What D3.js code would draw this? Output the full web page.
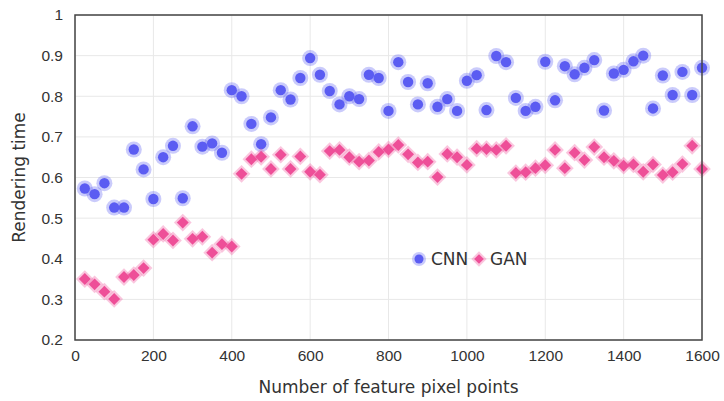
<!DOCTYPE html>
<meta charset="utf-8">
<style>
body {
  margin: 0;
  background: #fff;
  font-family: "DejaVu Sans", Verdana, sans-serif;
}
.grid line {
  stroke: #e8e8e8;
  stroke-width: 1;
}
.axis text {
  font-size: 15.5px;
  fill: #333;
}
.axis path, .axis line {
  display: none;
}
.title {
  font-size: 17px;
  fill: #333;
}
</style>
<body>
<script src="https://cdn.jsdelivr.net/npm/d3@7"></script>
<script>

var width = 724,
    height = 401;

var margin = {top: 15, right: 22, bottom: 61, left: 75};

// feature pixel counts, one point every 25
var xValues = d3.range(1, 65).map(function(i) { return i * 25; });

var cnn = [0.573, 0.559, 0.586, 0.526, 0.526, 0.669, 0.62, 0.547, 0.65, 0.678,
  0.549, 0.726, 0.676, 0.684, 0.661, 0.815, 0.8, 0.732, 0.682, 0.748,
  0.815, 0.792, 0.845, 0.894, 0.853, 0.813, 0.78, 0.8, 0.793, 0.853,
  0.845, 0.764, 0.884, 0.835, 0.78, 0.832, 0.774, 0.793, 0.764, 0.838,
  0.852, 0.766, 0.899, 0.884, 0.796, 0.764, 0.774, 0.885, 0.79, 0.874,
  0.854, 0.87, 0.889, 0.765, 0.856, 0.865, 0.886, 0.9, 0.77, 0.851,
  0.803, 0.86, 0.803, 0.87];

var gan = [0.35, 0.337, 0.319, 0.301, 0.355, 0.36, 0.377, 0.447, 0.461, 0.445,
  0.489, 0.449, 0.454, 0.415, 0.436, 0.43, 0.609, 0.645, 0.651, 0.621,
  0.656, 0.621, 0.652, 0.614, 0.607, 0.665, 0.668, 0.65, 0.639, 0.642,
  0.663, 0.669, 0.68, 0.657, 0.637, 0.639, 0.601, 0.658, 0.65, 0.631,
  0.671, 0.67, 0.668, 0.678, 0.611, 0.613, 0.623, 0.63, 0.668, 0.623,
  0.661, 0.643, 0.675, 0.65, 0.641, 0.629, 0.632, 0.614, 0.632, 0.606,
  0.613, 0.633, 0.678, 0.621];

var xTicks = [0, 200, 400, 600, 800, 1000, 1200, 1400, 1600];
var yTicks = [0.2, 0.3, 0.4, 0.5, 0.6, 0.7, 0.8, 0.9, 1];

var svg = d3.select("body").append("svg")
    .attr("width", width)
    .attr("height", height);

var x = d3.scaleLinear()
    .domain([0, 1600])
    .range([margin.left, width - margin.right]);

var y = d3.scaleLinear()
    .domain([0.2, 1])
    .range([height - margin.bottom, margin.top]);

// grid
var grid = svg.append("g").attr("class", "grid");
grid.selectAll(".gx")
    .data(xTicks)
  .enter().append("line")
    .attr("x1", x).attr("x2", x)
    .attr("y1", y(0.2)).attr("y2", y(1));
grid.selectAll(".gy")
    .data(yTicks)
  .enter().append("line")
    .attr("x1", x(0)).attr("x2", x(1600))
    .attr("y1", y).attr("y2", y);

// axes (labels only)
svg.append("g")
    .attr("class", "axis")
    .attr("transform", "translate(0," + y(0.2) + ")")
    .call(d3.axisBottom(x).tickValues(xTicks).tickSize(0).tickPadding(10).tickFormat(d3.format("d")));

svg.append("g")
    .attr("class", "axis")
    .attr("transform", "translate(" + x(0) + ",0)")
    .call(d3.axisLeft(y).tickValues(yTicks).tickSize(0).tickPadding(12).tickFormat(function(d) { return d === 1 ? "1" : d3.format(".1f")(d); }));

svg.append("text")
    .attr("class", "title")
    .attr("x", (x(0) + x(1600)) / 2)
    .attr("y", 393)
    .attr("text-anchor", "middle")
    .text("Number of feature pixel points");

svg.append("text")
    .attr("class", "title")
    .attr("transform", "translate(25," + y(0.6) + ") rotate(-90)")
    .attr("text-anchor", "middle")
    .text("Rendering time");

// points
var blue = "#5b5cf2",
    pink = "#ee4f98";

var diamond = d3.symbol().type(d3.symbolDiamond2);

var cnnG = svg.append("g");
cnnG.selectAll(".halo")
    .data(cnn)
  .enter().append("circle")
    .attr("cx", function(d, i) { return x(xValues[i]); })
    .attr("cy", y)
    .attr("r", 8)
    .attr("fill", blue)
    .attr("fill-opacity", 0.32);
cnnG.selectAll(".dot")
    .data(cnn)
  .enter().append("circle")
    .attr("cx", function(d, i) { return x(xValues[i]); })
    .attr("cy", y)
    .attr("r", 5.2)
    .attr("fill", blue);

var ganG = svg.append("g");
ganG.selectAll(".halo")
    .data(gan)
  .enter().append("path")
    .attr("transform", function(d, i) { return "translate(" + x(xValues[i]) + "," + y(d) + ")"; })
    .attr("d", diamond.size(200))
    .attr("fill", pink)
    .attr("fill-opacity", 0.32);
ganG.selectAll(".dot")
    .data(gan)
  .enter().append("path")
    .attr("transform", function(d, i) { return "translate(" + x(xValues[i]) + "," + y(d) + ")"; })
    .attr("d", diamond.size(90))
    .attr("fill", pink);

// frame
svg.append("rect")
    .attr("x", x(0))
    .attr("y", y(1))
    .attr("width", x(1600) - x(0))
    .attr("height", y(0.2) - y(1))
    .attr("fill", "none")
    .attr("stroke", "#444")
    .attr("stroke-width", 1.5);

// legend
var legend = svg.append("g").attr("transform", "translate(419,259)");
legend.append("circle").attr("r", 7).attr("fill", blue).attr("fill-opacity", 0.32);
legend.append("circle").attr("r", 4.5).attr("fill", blue);
legend.append("text").attr("x", 12).attr("y", 6).attr("class", "title").text("CNN");
legend.append("path").attr("transform", "translate(60,0)").attr("d", diamond.size(150)).attr("fill", pink).attr("fill-opacity", 0.32);
legend.append("path").attr("transform", "translate(60,0)").attr("d", diamond.size(60)).attr("fill", pink);
legend.append("text").attr("x", 71).attr("y", 6).attr("class", "title").text("GAN");

</script>
